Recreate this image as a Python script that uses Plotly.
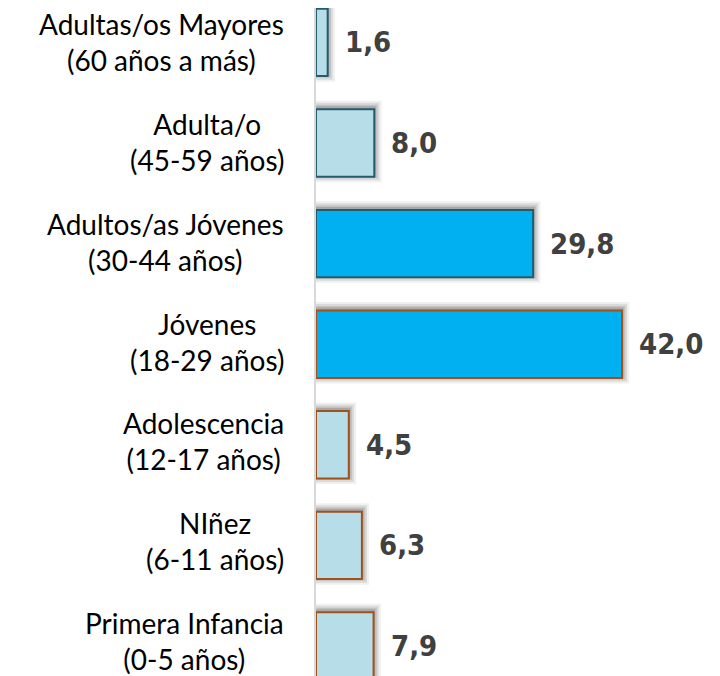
import plotly.graph_objects as go

categories = [
    "Primera Infancia<br>(0-5 años)",
    "NIñez<br>(6-11 años)",
    "Adolescencia<br>(12-17 años)",
    "Jóvenes<br>(18-29 años)",
    "Adultos/as Jóvenes<br>(30-44 años)",
    "Adulta/o<br>(45-59 años)",
    "Adultas/os Mayores<br>(60 años a más)",
]
values = [7.9, 6.3, 4.5, 42.0, 29.8, 8.0, 1.6]
value_labels = ["7,9", "6,3", "4,5", "42,0", "29,8", "8,0", "1,6"]
fill_colors = ["#B7DEE8", "#B7DEE8", "#B7DEE8", "#00B0F0", "#00B0F0", "#B7DEE8", "#B7DEE8"]
line_colors = ["#A0521B", "#A0521B", "#A0521B", "#A0521B", "#245C6E", "#245C6E", "#245C6E"]

idx = list(range(len(categories)))

fig = go.Figure()

# soft shadow layers
for dx, w, op in [(1.0, 0.81, 0.06), (0.7, 0.77, 0.09), (0.45, 0.73, 0.11), (0.22, 0.70, 0.13)]:
    fig.add_trace(go.Bar(
        y=idx, x=[v + dx for v in values], orientation="h",
        width=w, offset=-w / 2 + 0.015,
        marker=dict(color=f"rgba(0,0,0,{op})", line=dict(width=0)),
        hoverinfo="skip", showlegend=False,
    ))

fig.add_trace(go.Bar(
    y=idx, x=values, orientation="h", width=0.67,
    marker=dict(color=fill_colors, line=dict(color=line_colors, width=2)),
    showlegend=False,
))

annotations = []
for i, (c, v, t) in enumerate(zip(categories, values, value_labels)):
    annotations.append(dict(
        x=0, xref="paper", y=i, yref="y", text=c, showarrow=False,
        xanchor="right", yanchor="middle", align="center", xshift=-30,
        yshift=5 - 0.8 * i,
        font=dict(family="Lato, 'Open Sans', sans-serif", size=28, color="#000000"),
    ))
    annotations.append(dict(
        x=v, xref="x", y=i, yref="y", text=f"<b>{t}</b>", showarrow=False,
        xanchor="left", yanchor="middle", xshift=15,
        font=dict(family="'DejaVu Sans Condensed', sans-serif", size=29, color="#404040"),
    ))

fig.update_layout(
    width=704, height=668,
    margin=dict(l=308, r=0, t=0, b=0),
    paper_bgcolor="white", plot_bgcolor="white",
    barmode="overlay",
    xaxis=dict(range=[0, 54.35], visible=False, fixedrange=True),
    yaxis=dict(range=[-0.298, 6.342], showticklabels=False, showgrid=False, zeroline=False,
               showline=True, linecolor="#D9D9D9", linewidth=2, ticks=""),
    annotations=annotations,
)

fig.write_html("out.html")
